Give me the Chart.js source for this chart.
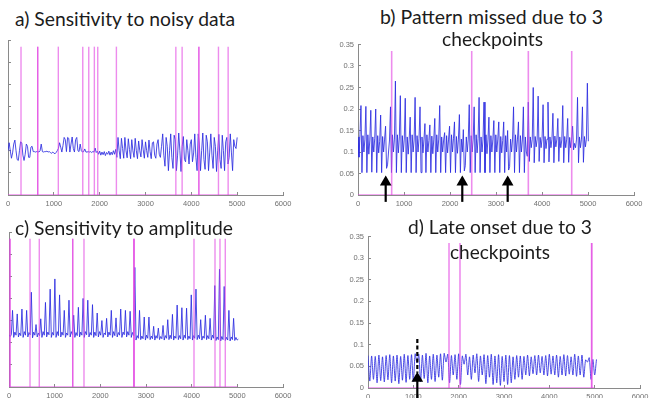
<!DOCTYPE html>
<html>
<head>
<meta charset="utf-8">
<script src="https://cdn.jsdelivr.net/npm/chart.js@4.4.0/dist/chart.umd.min.js"></script>
<style>
  html, body { margin: 0; padding: 0; width: 650px; height: 398px; overflow: hidden; background: #fff; }
  canvas { position: absolute; }
  .ttl { position: absolute; font-family: Lato, "Open Sans", sans-serif; font-size: 19px; line-height: 19px;
         color: #1c1c1c; white-space: nowrap; transform-origin: 0 0; }
</style>
</head>
<body>
<canvas id="pa"></canvas>
<canvas id="pb"></canvas>
<canvas id="pc"></canvas>
<canvas id="pd"></canvas>
<div class="ttl" id="ta">a) Sensitivity to noisy data</div>
<div class="ttl" id="tb1">b) Pattern missed due to 3</div>
<div class="ttl" id="tb2">checkpoints</div>
<div class="ttl" id="tc">c) Sensitivity to amplitude</div>
<div class="ttl" id="td1">d) Late onset due to 3</div>
<div class="ttl" id="td2">checkpoints</div>
<script>
// axes (same for all four panels)
const xMax = 6000, xStep = 1000;
const yMax = 0.35, yStep = 0.05;
const markTop = 0.335; // height of the checkpoint markers

// a) noisy data, one sample every 25
const aStep = 25;
const aSignal = [
  0.10, 0.118, 0.10, 0.083, 0.095, 0.115, 0.124, 0.1, 0.08, 0.078, 0.1, 0.12, 0.118, 0.09, 0.078, 0.092, 0.115, 0.11, 0.085, 0.085, 0.108, 0.11, 0.098,
  0.098, 0.097, 0.098, 0.098, 0.097, 0.1, 0.115, 0.098, 0.097, 0.098, 0.098, 0.099, 0.097, 0.098, 0.096, 0.094, 0.097, 0.095, 0.093, 0.096, 0.1,
  0.105, 0.118, 0.108, 0.097, 0.112, 0.13, 0.125, 0.098, 0.13, 0.128, 0.097, 0.115, 0.131, 0.105, 0.097, 0.125, 0.13, 0.1, 0.098, 0.115, 0.1,
  0.097, 0.098, 0.104, 0.097, 0.097, 0.098, 0.097, 0.098, 0.096, 0.098, 0.097, 0.106, 0.096, 0.099,
  0.092, 0.099, 0.09, 0.097, 0.091, 0.098, 0.089, 0.096, 0.092, 0.099, 0.09, 0.097, 0.091, 0.1, 0.092, 0.103,
  0.085, 0.13, 0.1, 0.082, 0.128, 0.105, 0.083, 0.13, 0.1, 0.084, 0.127, 0.103, 0.082, 0.125, 0.1, 0.085, 0.128, 0.1, 0.082, 0.122,
  0.1, 0.086, 0.125, 0.102, 0.083, 0.12, 0.1, 0.085, 0.124, 0.098, 0.082, 0.118, 0.12, 0.09, 0.083, 0.115, 0.125, 0.092, 0.085,
  0.11, 0.138, 0.09, 0.065, 0.13, 0.11, 0.055, 0.1, 0.138, 0.085, 0.06, 0.135, 0.125, 0.055, 0.09, 0.14, 0.1, 0.053, 0.11, 0.132,
  0.08, 0.075, 0.125, 0.1, 0.07, 0.115, 0.125, 0.075, 0.095, 0.138, 0.085, 0.055, 0.138, 0.115, 0.055, 0.1, 0.14, 0.08, 0.058, 0.135,
  0.12, 0.055, 0.095, 0.138, 0.09, 0.06, 0.13, 0.11, 0.053, 0.1, 0.137, 0.08, 0.06, 0.135, 0.1, 0.055, 0.12, 0.13, 0.07, 0.085,
  0.138, 0.095, 0.055, 0.125, 0.11, 0.105, 0.13
];
// repeated positions are checkpoints found twice (darker line)
const aCheckpoints = [284, 648, 648, 1098, 1631, 1762, 1884, 1958, 2365, 3662, 3799, 4164, 4164, 4592, 4803];

// b) pattern missed, one sample every 21.4 (peak, trough, three plateau samples per beat)
const bStep = 21.4;
const bSignal = [
  0.135, 0.088, 0.14,
  0.208, 0.052, 0.138, 0.1, 0.13,    0.206, 0.052, 0.14, 0.095, 0.128,
  0.197, 0.053, 0.135, 0.1, 0.132,   0.2, 0.052, 0.138, 0.098, 0.125,
  0.186, 0.052, 0.136, 0.1, 0.13,    0.16, 0.062, 0.07, 0.1, 0.128,
  0.205, 0.052, 0.14, 0.1, 0.13,     0.265, 0.052, 0.14, 0.098, 0.135,
  0.231, 0.052, 0.138, 0.1, 0.13,    0.225, 0.052, 0.135, 0.095, 0.13,
  0.181, 0.052, 0.14, 0.1, 0.128,    0.227, 0.052, 0.138, 0.1, 0.132,
  0.205, 0.052, 0.135, 0.098, 0.13,  0.166, 0.052, 0.14, 0.1, 0.127,
  0.163, 0.052, 0.137, 0.096, 0.13,  0.178, 0.052, 0.14, 0.1, 0.13,
  0.208, 0.052, 0.135, 0.1, 0.128,   0.145, 0.052, 0.138, 0.098, 0.13,
  0.16, 0.052, 0.14, 0.1, 0.132,     0.17, 0.052, 0.136, 0.097, 0.13,
  0.187, 0.052, 0.13, 0.1, 0.152,    0.056, 0.068, 0.135, 0.1, 0.13,
  0.21, 0.052, 0.138, 0.1, 0.13,     0.205, 0.052, 0.14, 0.098, 0.132,
  0.227, 0.052, 0.135, 0.1, 0.13,    0.216, 0.052, 0.14, 0.096, 0.128,
  0.181, 0.052, 0.138, 0.1, 0.13,    0.173, 0.052, 0.14, 0.1, 0.13,
  0.17, 0.052, 0.136, 0.098, 0.127,  0.17, 0.052, 0.138, 0.1, 0.15,
  0.058, 0.066, 0.13, 0.1, 0.13,     0.205, 0.052, 0.14, 0.1, 0.13,
  0.17, 0.052, 0.138, 0.1, 0.128,    0.205, 0.052, 0.135, 0.1, 0.09,
  0.216, 0.078, 0.135, 0.11, 0.13,   0.25, 0.075, 0.136, 0.112, 0.13,
  0.23, 0.078, 0.134, 0.11, 0.132,   0.21, 0.075, 0.136, 0.108, 0.13,
  0.216, 0.077, 0.135, 0.11, 0.13,   0.19, 0.075, 0.137, 0.112, 0.13,
  0.178, 0.078, 0.135, 0.11, 0.128,  0.208, 0.075, 0.136, 0.11, 0.13,
  0.178, 0.076, 0.134, 0.11, 0.13,   0.16, 0.105, 0.12, 0.11, 0.13,
  0.227, 0.075, 0.135, 0.11, 0.13,   0.205, 0.076, 0.136, 0.112, 0.13,
  0.26, 0.125
];
const bCheckpoints = [732, 2472, 3703, 4646];
const bArrows = [602, 2267, 3254];

// c) amplitude, one sample every 25.75 (peak, dip, bump, base per beat)
const cStep = 25.75;
const cPeaks = [
  0.173, 0.165, 0.176, 0.173, 0.214, 0.141, 0.154, 0.191, 0.221, 0.244, 0.208, 0.173,
  0.196, 0.162, 0.18, 0.2, 0.196, 0.186, 0.167, 0.15, 0.155, 0.173, 0.156, 0.176,
  0.173, 0.171, 0.27, 0.173, 0.158, 0.158, 0.137, 0.133, 0.139, 0.152, 0.164, 0.185,
  0.179, 0.178, 0.208, 0.221, 0.152, 0.162, 0.155, 0.229, 0.266, 0.227, 0.173, 0.155
];
const cDips = [
  0.112, 0.113, 0.112, 0.113, 0.111, 0.113, 0.112, 0.113, 0.112, 0.112, 0.113, 0.112,
  0.113, 0.112, 0.113, 0.112, 0.113, 0.112, 0.113, 0.112, 0.113, 0.112, 0.113, 0.112,
  0.113, 0.112, 0.106, 0.107, 0.106, 0.107, 0.106, 0.107, 0.106, 0.107, 0.106, 0.107,
  0.106, 0.107, 0.106, 0.107, 0.106, 0.107, 0.106, 0.105, 0.104, 0.105, 0.104, 0.105
];
const cBumps = [
  0.124, 0.122, 0.125, 0.123, 0.124, 0.122, 0.125, 0.124, 0.123, 0.125, 0.124, 0.122,
  0.125, 0.123, 0.124, 0.125, 0.123, 0.124, 0.125, 0.122, 0.124, 0.125, 0.123, 0.124,
  0.125, 0.123, 0.116, 0.115, 0.117, 0.115, 0.116, 0.114, 0.116, 0.117, 0.115, 0.116,
  0.117, 0.115, 0.116, 0.117, 0.115, 0.116, 0.117, 0.113, 0.114, 0.112, 0.113, 0.112
];
const cBase = [
  0.117, 0.116, 0.117, 0.118, 0.117, 0.116, 0.117, 0.118, 0.117, 0.116, 0.117, 0.117,
  0.118, 0.116, 0.117, 0.118, 0.117, 0.116, 0.117, 0.118, 0.117, 0.116, 0.117, 0.118,
  0.117, 0.116, 0.11, 0.109, 0.11, 0.109, 0.11, 0.109, 0.11, 0.109, 0.11, 0.109,
  0.11, 0.109, 0.11, 0.109, 0.11, 0.109, 0.11, 0.107, 0.107, 0.106, 0.107, 0.106
];
const cLead = [0.118, 0.114, 0.118];
const cTail = [0.108];
const cCheckpoints = [22, 22, 460, 663, 1395, 1395, 1642, 2737, 2737, 2737, 4051, 4511, 4620, 4736];

// d) late onset, one sample every 40 (alternating peak / trough)
const dStep = 40;
const dSignal = [
  0.075, 0.016, 0.074, 0.02, 0.073, 0.012, 0.076, 0.017, 0.072, 0.014, 0.075, 0.019,
  0.077, 0.012, 0.074, 0.016, 0.076, 0.01, 0.073, 0.018, 0.078, 0.013, 0.075, 0.02,
  0.077, 0.015, 0.079, 0.058, 0.078, 0.014, 0.076, 0.022, 0.08, 0.012, 0.074, 0.02,
  0.078, 0.015, 0.076, 0.025, 0.079, 0.018, 0.08, 0.06, 0.078, 0.012, 0.075, 0.03,
  0.077, 0.02, 0.079, 0.008, 0.074, 0.055, 0.078, 0.03, 0.072, 0.02, 0.076, 0.035,
  0.079, 0.015, 0.074, 0.03, 0.077, 0.01, 0.075, 0.025, 0.078, 0.008, 0.074, 0.012,
  0.077, 0.006, 0.073, 0.015, 0.076, 0.008, 0.075, 0.012, 0.072, 0.02, 0.075, 0.025,
  0.074, 0.02, 0.073, 0.03, 0.076, 0.028, 0.072, 0.033, 0.075, 0.03, 0.076, 0.035,
  0.073, 0.03, 0.075, 0.028, 0.078, 0.032, 0.074, 0.03, 0.076, 0.025, 0.073, 0.03,
  0.077, 0.028, 0.075, 0.032, 0.072, 0.03, 0.078, 0.027, 0.074, 0.03, 0.076, 0.025,
  0.065, 0.06, 0.07, 0.02, 0.066, 0.03, 0.066
];
const dCheckpoints = [1787, 2029, 4934, 4934];
const dOnset = 1088;
const dOnsetTop = 0.113;

const signalEnd = 5000;

const BLUE = "rgba(45, 45, 225, 0.85)";
const MAGENTA = "rgba(226, 70, 226, 0.62)";

function toPoints(values, step) {
  return values.map((v, i) => ({ x: i * step, y: v }));
}

function checkpointSets(list, width) {
  const sets = [{
    data: [{ x: 0, y: 0 }, { x: signalEnd, y: 0 }],
    borderColor: MAGENTA, borderWidth: 1.5, pointRadius: 0
  }];
  list.forEach(cp => sets.push({
    data: [{ x: cp, y: 0 }, { x: cp, y: markTop }],
    borderColor: MAGENTA, borderWidth: width, pointRadius: 0
  }));
  return sets;
}

function arrowSet(x, from, to) {
  return {
    data: [{ x: x, y: from }, { x: x, y: to }],
    borderColor: "#000", borderWidth: 2.2,
    pointRadius: [0, 4.5], pointStyle: "triangle",
    pointBackgroundColor: "#000", pointBorderColor: "#000",
    clip: false
  };
}

const yAxisW = 44, xAxisH = 22, padTop = 8, padRight = 22;

function makePanel(id, box, datasets, showYLabels) {
  const cnv = document.getElementById(id);
  cnv.width = box.right - box.left + yAxisW + padRight;
  cnv.height = box.bottom - box.top + padTop + xAxisH;
  cnv.style.left = (box.left - yAxisW) + "px";
  cnv.style.top = (box.top - padTop) + "px";
  const tickFont = { family: "Liberation Sans", size: 7.5 };
  return new Chart(cnv, {
    type: "line",
    data: { datasets: datasets },
    options: {
      responsive: false,
      animation: false,
      events: [],
      layout: { padding: { top: padTop, right: padRight, left: 0, bottom: 0 } },
      plugins: { legend: { display: false }, tooltip: { enabled: false } },
      elements: { line: { tension: 0 } },
      scales: {
        x: {
          type: "linear", min: 0, max: xMax,
          ticks: { stepSize: xStep, color: "#707070", font: tickFont, padding: 7, maxRotation: 0,
                   callback: v => String(v) },
          grid: { display: true, drawOnChartArea: false, drawTicks: true, tickLength: -3, color: "#8a8a8a" },
          border: { display: true, color: "#8a8a8a" },
          afterFit: s => { s.height = xAxisH; }
        },
        y: {
          type: "linear", min: 0, max: yMax,
          ticks: { stepSize: yStep, color: "#707070", font: tickFont, padding: 7, display: showYLabels,
                   callback: v => String(Number(v.toFixed(2))) },
          grid: { display: true, drawOnChartArea: false, drawTicks: true, tickLength: -3, color: "#8a8a8a" },
          border: { display: true, color: "#8a8a8a" },
          afterFit: s => { s.width = yAxisW; }
        }
      }
    }
  });
}

function signalSet(points) {
  return { data: points, borderColor: BLUE, borderWidth: 1, pointRadius: 0 };
}

// panel a
makePanel("pa", { left: 8, top: 40, right: 283, bottom: 195 },
  [...checkpointSets(aCheckpoints, 1.4), signalSet(toPoints(aSignal, aStep))], false);

// panel b
makePanel("pb", { left: 358, top: 41, right: 634, bottom: 195 },
  [...bArrows.map(x => arrowSet(x, -0.016, 0.03)),
   ...checkpointSets(bCheckpoints, 1.6), signalSet(toPoints(bSignal, bStep))], true);

// panel c
const cValues = [...cLead];
cPeaks.forEach((p, i) => cValues.push(p, cDips[i], cBumps[i], cBase[i]));
cValues.push(...cTail);
makePanel("pc", { left: 9, top: 232, right: 283, bottom: 387 },
  [...checkpointSets(cCheckpoints, 1.4), signalSet(toPoints(cValues, cStep))], false);

// panel d
makePanel("pd", { left: 368, top: 233, right: 640, bottom: 388 },
  [arrowSet(dOnset, -0.06, 0.022),
   { data: [{ x: dOnset, y: dOnsetTop }, { x: dOnset, y: 0.035 }], borderColor: "#000", borderWidth: 2.2,
     borderDash: [4, 2.5], pointRadius: 0, clip: false },
   ...checkpointSets(dCheckpoints, 1.6),
   { ...signalSet(toPoints(dSignal, dStep)), tension: 0.25 }], true);

// titles: left edge or centre, top, target width
const titles = [
  ["ta", 15, null, 9, 220],
  ["tb1", null, 491.5, 6.5, 223],
  ["tb2", null, 492.5, 29, 101],
  ["tc", 15, null, 218, 218],
  ["td1", null, 500, 217, 184],
  ["td2", null, 500, 241.5, 100]
];
function fitTitles() {
  titles.forEach(([id, left, centre, top, w]) => {
    const el = document.getElementById(id);
    el.style.transform = "none";
    const natural = el.getBoundingClientRect().width;
    el.style.transform = "scaleX(" + (w / natural) + ")";
    el.style.left = (left !== null ? left : centre - w / 2) + "px";
    el.style.top = top + "px";
  });
}
fitTitles();
document.fonts.ready.then(fitTitles);
</script>
</body>
</html>
